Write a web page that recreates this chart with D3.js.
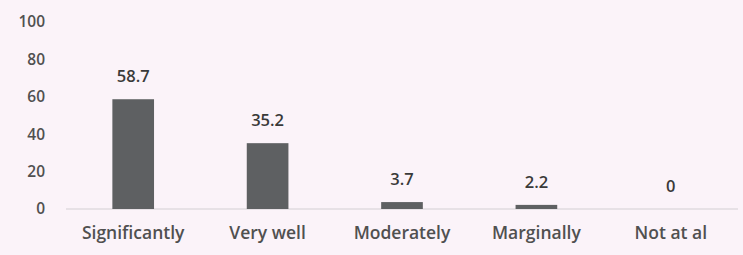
<!DOCTYPE html>
<html>
<head>
<meta charset="utf-8">
<script src="https://cdn.jsdelivr.net/npm/d3@7"></script>
<style>
  body { margin: 0; background: #fbf3f9; }
  svg { display: block; }
  text { font-family: "Open Sans", "Liberation Sans", sans-serif; fill: #505050; font-weight: 600; }
</style>
</head>
<body>
<script>
var categories = ["Significantly", "Very well", "Moderately", "Marginally", "Not at al"];
var values = [58.7, 35.2, 3.7, 2.2, 0];
var valueLabels = ["58.7", "35.2", "3.7", "2.2", "0"];
var yTicks = [0, 20, 40, 60, 80, 100];

var width = 743, height = 255;

var svg = d3.select("body").append("svg")
    .attr("width", width)
    .attr("height", height);

var xScale = d3.scaleBand().domain(categories).range([66, 738]).paddingInner(0.69).paddingOuter(0.345);
var yScale = d3.scaleLinear().domain([0, 100]).range([209, 22]);

// y labels, no axis line
svg.append("g").selectAll("text")
    .data(yTicks)
    .enter().append("text")
    .attr("x", 45)
    .attr("y", function(d) { return yScale(d); })
    .attr("dy", "0.35em")
    .attr("text-anchor", "end")
    .attr("font-size", 15.5)
    .text(function(d) { return d; });

// baseline
svg.append("line")
    .attr("x1", 66).attr("x2", 738)
    .attr("y1", yScale(0)).attr("y2", yScale(0))
    .attr("stroke", "#d4cfd3")
    .attr("stroke-width", 1.2);

svg.append("g").selectAll("rect")
    .data(values)
    .enter().append("rect")
    .attr("x", function(d, i) { return xScale(categories[i]); })
    .attr("y", function(d) { return yScale(d); })
    .attr("width", xScale.bandwidth())
    .attr("height", function(d) { return yScale(0) - yScale(d); })
    .attr("fill", "#5e6062");

svg.append("g").selectAll("text")
    .data(values)
    .enter().append("text")
    .attr("x", function(d, i) { return xScale(categories[i]) + xScale.bandwidth() / 2; })
    .attr("y", function(d) { return yScale(d) - 17; })
    .attr("text-anchor", "middle")
    .attr("font-size", 16.5)
    .style("fill", "#3a3a3a")
    .text(function(d, i) { return valueLabels[i]; });

svg.append("g").selectAll("text")
    .data(categories)
    .enter().append("text")
    .attr("x", function(d) { return xScale(d) + xScale.bandwidth() / 2; })
    .attr("y", 233)
    .attr("dy", "0.35em")
    .attr("text-anchor", "middle")
    .attr("font-size", 17.5)
    .text(function(d) { return d; });
</script>
</body>
</html>
